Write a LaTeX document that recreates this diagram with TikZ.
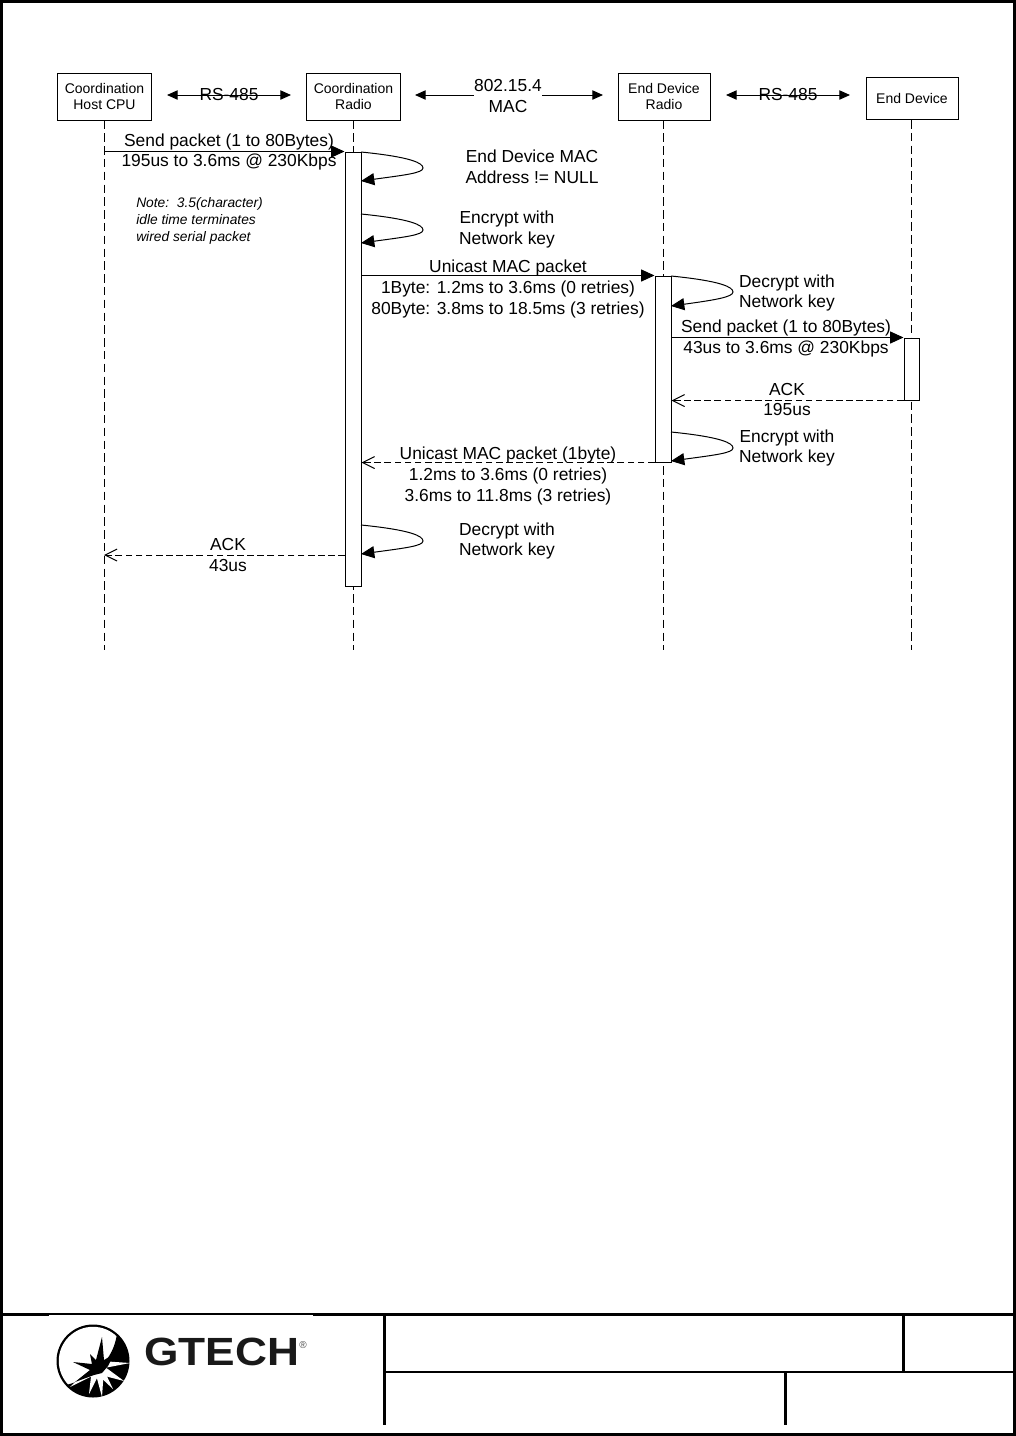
\documentclass[tikz,border=0pt]{standalone}
\usepackage{fontspec}
\setmainfont{Liberation Sans}
\usetikzlibrary{arrows.meta}
\tikzset{
  px/.style={x=0.75pt,y=-0.75pt},
  lbl/.style={inner sep=0pt,align=center,font=\fontsize{13.05}{15.5}\selectfont},
  hdr/.style={draw,line width=0.75pt,fill=white,inner sep=0pt,align=center,font=\fontsize{10.5}{12}\selectfont},
  notetext/.style={inner sep=0pt,align=left,anchor=west,font=\fontsize{10.35}{12.75}\selectfont\itshape},
  activ/.style={draw,line width=0.75pt,fill=white,inner sep=0pt,minimum width=12pt},
  life/.style={line width=0.75pt,dash pattern=on 6.4pt off 3.2pt},
  solidtip/.style={line width=0.75pt,-{Triangle[length=10pt,width=9pt]}},
  opentip/.style={line width=0.75pt,dash pattern=on 5pt off 2.6pt,-{Straight Barb[length=9pt,width=9pt]}},
  both/.style={line width=0.75pt,{Triangle[length=8pt,width=7pt]}-{Triangle[length=8pt,width=7pt]}},
  onetip/.style={line width=0.75pt,-{Triangle[length=8pt,width=7pt]}},
  frameline/.style={line width=2.25pt,line cap=butt},
  thinframe/.style={line width=1.6pt,line cap=butt},
}
\begin{document}
\begin{tikzpicture}[px]
\useasboundingbox (0,0) rectangle (1016,1436);
\fill[white] (0,0) rectangle (1016,1436);

% title block frame
\draw[frameline] (1.5,1.5) rectangle (1014.5,1434.5);
\draw[frameline] (0,1314.5) -- (1016,1314.5);
\draw[frameline] (384,1314.5) -- (384,1425);
\draw[frameline] (903,1314.5) -- (903,1372);
\draw[frameline] (785.5,1372) -- (785.5,1425);
\draw[thinframe] (384,1372) -- (1016,1372);

% logo
\fill[white] (49,1314.5) rectangle (313,1407);
\coordinate (logoc) at (93,1361);
\fill[black] (logoc) circle[radius=36.5];
\fill[white] (logoc) circle[radius=34.2];
\begin{scope}
  \clip (logoc) circle[radius=35];
  \fill[black] (117,1333) .. controls (115,1352) and (102,1376) .. (66,1385)
     -- (80,1405) -- (135,1405) -- (135,1333) -- cycle;
\end{scope}
\fill[white] (99,1369) -- (130,1363) -- (101,1361) -- cycle;
\fill[white] (101,1364) -- (124,1381) -- (97,1374) -- cycle;
\fill[white] (103,1368) -- (113,1389) -- (96,1373) -- cycle;
\fill[white] (104,1368) -- (102,1397) -- (95,1371) -- cycle;
\fill[white] (100,1372) -- (89,1394) -- (92,1368) -- cycle;
\fill[white] (96,1374) -- (70,1387) -- (90,1368) -- cycle;
\fill[black] (96,1360) -- (102,1337) -- (104,1360) -- (114,1354) -- (108,1366)
   -- (102,1373) -- (94,1375) -- (75,1382) -- (90,1370) -- (73,1362) -- (92,1364)
   -- (90,1354) -- cycle;
\node[inner sep=0pt,anchor=west,font=\fontsize{29.5}{31}\selectfont\bfseries,text=black!90] (gtech) at (144,1351.5) {\scalebox{1.125}[1]{GTECH}};
\node[inner sep=0pt,font=\fontsize{7.5}{8}\selectfont,text=black!70] (reg) at (303,1345) {®};

% participants
\node[hdr,minimum width=71pt,minimum height=35.25pt] (h1) at (104.5,96.5) {Coordination\\Host CPU};
\node[hdr,minimum width=71pt,minimum height=35.25pt] (h2) at (353.5,96.5) {Coordination\\Radio};
\node[hdr,minimum width=69pt,minimum height=35.25pt] (h3) at (664,96.5) {End Device\\Radio};
\node[hdr,minimum width=69pt,minimum height=31.5pt] (h4) at (912,98.5) {End Device};

% lifelines
\coordinate (e1) at (104,650);
\coordinate (e2) at (353,650);
\coordinate (e3) at (663,650);
\coordinate (e4) at (911,650);
\draw[life] (h1.south -| e1) -- (e1);
\draw[life] (h2.south -| e2) -- (e2);
\draw[life] (h3.south -| e3) -- (e3);
\draw[life] (h4.south -| e4) -- (e4);

% activations
\node[activ,minimum height=325.5pt] (a1) at (353,369) {};
\node[activ,minimum height=139.5pt] (a2) at (663,369) {};
\node[activ,minimum width=11.25pt,minimum height=46.5pt] (a3) at (911.5,369) {};

% link arrows and labels
\coordinate (r1l) at (167,95);
\coordinate (r1r) at (291,95);
\coordinate (r2l) at (726,95);
\coordinate (r2r) at (850,95);
\coordinate (ml) at (415,95);
\coordinate (mr) at (603,95);
\draw[both] (r1l) -- (r1r);
\draw[both] (r2l) -- (r2r);
\node[lbl] (rs1) at (229,95) {RS-485};
\node[lbl] (rs2) at (788,95) {RS-485};
\node[lbl] (mac) at (508,96) {802.15.4\\MAC};
\draw[onetip] (mac.west |- ml) -- (ml);
\draw[onetip] (mac.east |- mr) -- (mr);

% messages
\draw[solidtip] (e1 |- a1.north) -- (a1.north west);
\draw[solidtip] (a1.east |- a2.north) -- (a2.north west);
\draw[solidtip] (a2.east |- a3.north) -- (a3.north west);
\draw[opentip] (a3.south west) -- (a2.east |- a3.south);
\draw[opentip] (a2.south west) -- (a1.east |- a2.south);
\coordinate (m6) at (345,555);
\draw[opentip] (m6) -- (e1 |- m6);

% self messages
\coordinate (s1a) at (361,152);
\coordinate (s1b) at (361,181);
\coordinate (s2a) at (361,214);
\coordinate (s2b) at (361,243);
\coordinate (s3a) at (671,276);
\coordinate (s3b) at (671,306);
\coordinate (s4a) at (671,432);
\coordinate (s4b) at (671,461);
\coordinate (s5a) at (361,525);
\coordinate (s5b) at (361,554);
\foreach \p/\q in {s1a/s1b,s2a/s2b,s3a/s3b,s4a/s4b,s5a/s5b}{
  \draw[solidtip] (\p) .. controls +(50,5) and +(0,-5) .. ([shift={(62,16)}]\p)
     .. controls +(0,5) and +(44,-6) .. (\q);
}

% labels
\node[lbl] (t1) at (229,152) {Send packet (1 to 80Bytes)\\195us to 3.6ms @ 230Kbps};
\node[lbl] (t2) at (532,166.5) {End Device MAC\\Address != NULL};
\node[lbl] (t3) at (507,229.5) {Encrypt with\\Network key};
\node[notetext] (t4) at (136,221) {Note:\ \ 3.5(character)\\idle time terminates\\wired serial packet};
\node[lbl] (t5) at (508,289) {Unicast MAC packet\\1Byte: 1.2ms to 3.6ms (0 retries)\\80Byte: 3.8ms to 18.5ms (3 retries)};
\node[lbl] (t6) at (787,293) {Decrypt with\\Network key};
\node[lbl] (t7) at (786,338.5) {Send packet (1 to 80Bytes)\\43us to 3.6ms @ 230Kbps};
\node[lbl] (t8) at (787,399.5) {ACK\\195us};
\node[lbl] (t9) at (787,448) {Encrypt with\\Network key};
\node[lbl] (t10) at (508,476) {Unicast MAC packet (1byte)\\1.2ms to 3.6ms (0 retries)\\3.6ms to 11.8ms (3 retries)};
\node[lbl] (t11) at (507,541) {Decrypt with\\Network key};
\node[lbl] (t12) at (228,555) {ACK\\43us};
\end{tikzpicture}
\end{document}
